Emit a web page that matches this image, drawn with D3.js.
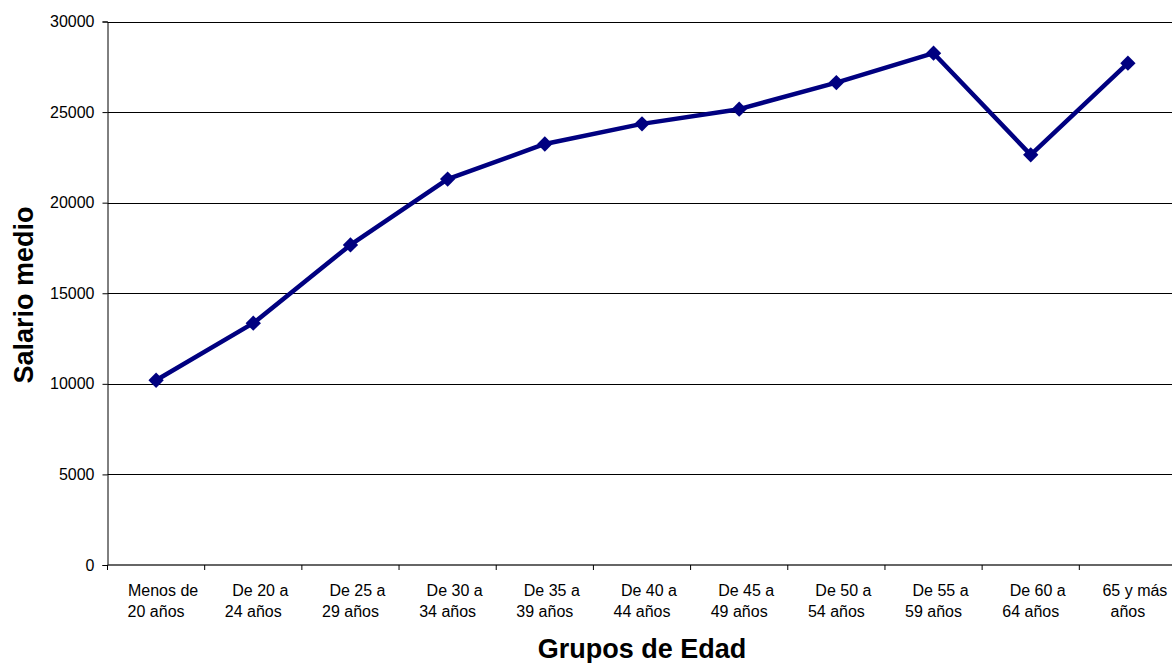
<!DOCTYPE html>
<html>
<head>
<meta charset="utf-8">
<script src="https://cdn.jsdelivr.net/npm/d3@7"></script>
<style>
  html, body { margin: 0; padding: 0; background: #fff; }
  svg { display: block; font-family: "Liberation Sans", Arial, sans-serif; }
</style>
</head>
<body>
<svg id="chart" width="1172" height="663"></svg>
<script>
// Age groups (two-line labels) and average salary per group
const categories = [
  ["Menos de", "20 años"],
  ["De 20 a", "24 años"],
  ["De 25 a", "29 años"],
  ["De 30 a", "34 años"],
  ["De 35 a", "39 años"],
  ["De 40 a", "44 años"],
  ["De 45 a", "49 años"],
  ["De 50 a", "54 años"],
  ["De 55 a", "59 años"],
  ["De 60 a", "64 años"],
  ["65 y más", "años"]
];
const salaries = [10200, 13350, 17670, 21300, 23240, 24350, 25160, 26630, 28250, 22640, 27700];
const yTicks = [0, 5000, 10000, 15000, 20000, 25000, 30000];

const svg = d3.select("#chart");
const plot = { left: 107.5, right: 1176.5, top: 21.5, bottom: 565 };

const x = d3.scaleBand()
  .domain(d3.range(categories.length))
  .range([plot.left, plot.right])
  .padding(0);

const y = d3.scaleLinear()
  .domain([0, 30000])
  .range([plot.bottom, plot.top]);

// Horizontal gridlines
svg.append("g")
  .selectAll("line")
  .data(yTicks.filter(d => d > 0))
  .join("line")
  .attr("x1", plot.left)
  .attr("x2", plot.right)
  .attr("y1", d => Math.round(y(d)) + 0.5)
  .attr("y2", d => Math.round(y(d)) + 0.5)
  .attr("stroke", "#000")
  .attr("stroke-width", 1);

// Y axis
const yAxis = svg.append("g")
  .attr("transform", `translate(${plot.left},0)`)
  .call(d3.axisLeft(y).tickValues(yTicks).tickSize(5).tickPadding(8).tickFormat(d3.format("d")));
yAxis.select(".domain").attr("stroke", "#000").attr("stroke-width", 1);
yAxis.selectAll(".tick line").attr("stroke", "#000");
yAxis.selectAll(".tick text")
  .attr("font-size", 16)
  .attr("fill", "#000")
  .attr("font-family", "Liberation Sans, Arial, sans-serif");

// X axis with ticks on category boundaries
const xAxisG = svg.append("g")
  .attr("transform", `translate(0,${plot.bottom})`);
xAxisG.append("line")
  .attr("x1", plot.left).attr("x2", plot.right)
  .attr("y1", 0).attr("y2", 0)
  .attr("stroke", "#333").attr("stroke-width", 1.6);
xAxisG.selectAll("line.tick")
  .data(d3.range(categories.length + 1))
  .join("line")
  .attr("class", "tick")
  .attr("x1", i => (i < categories.length ? x(i) : plot.right))
  .attr("x2", i => (i < categories.length ? x(i) : plot.right))
  .attr("y1", 0).attr("y2", 5)
  .attr("stroke", "#000");

const labels = xAxisG.selectAll("text.cat")
  .data(categories)
  .join("text")
  .attr("class", "cat")
  .attr("x", (d, i) => x(i) + x.bandwidth() / 2)
  .attr("y", 31)
  .attr("text-anchor", "middle")
  .attr("font-size", 16)
  .attr("fill", "#000");
// first line of each wrapped label sits a little right of the second
labels.selectAll("tspan")
  .data(d => d)
  .join("tspan")
  .attr("x", function (d, i) { return +d3.select(this.parentNode).attr("x") + (i === 0 ? 7 : 0); })
  .attr("dy", (d, i) => (i === 0 ? 0 : 21))
  .text(d => d);

// Salary line
const line = d3.line()
  .x((d, i) => x(i) + x.bandwidth() / 2)
  .y(d => y(d));

svg.append("path")
  .datum(salaries)
  .attr("d", line)
  .attr("fill", "none")
  .attr("stroke", "#000080")
  .attr("stroke-width", 4.5)
  .attr("stroke-linejoin", "round");

// Diamond markers
const diamond = d3.symbol().type(d3.symbolDiamond2).size(150);
svg.append("g")
  .selectAll("path")
  .data(salaries)
  .join("path")
  .attr("d", diamond)
  .attr("transform", (d, i) => `translate(${x(i) + x.bandwidth() / 2},${y(d)})`)
  .attr("fill", "#000080");

// Axis titles
svg.append("text")
  .attr("x", (plot.left + plot.right) / 2)
  .attr("y", 657.5)
  .attr("text-anchor", "middle")
  .attr("font-size", 27)
  .attr("font-weight", "bold")
  .attr("fill", "#000")
  .text("Grupos de Edad");

svg.append("text")
  .attr("transform", `translate(33,295) rotate(-90)`)
  .attr("text-anchor", "middle")
  .attr("font-size", 27)
  .attr("font-weight", "bold")
  .attr("fill", "#000")
  .text("Salario medio");
</script>
</body>
</html>
